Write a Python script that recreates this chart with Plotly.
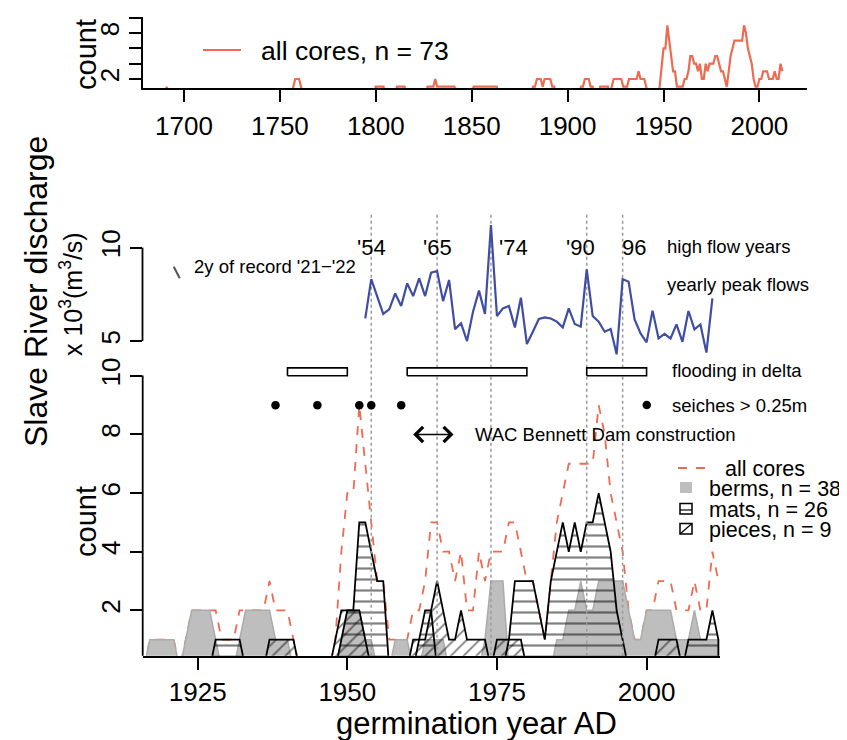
import plotly.graph_objects as go

W, H = 847, 740
OFF = 8  # page body margin
FW, FH = W - OFF, H - OFF
FONT = "Liberation Sans, Arial, Helvetica, sans-serif"
CORAL = "#EE6A50"
BLUE = "#3F4EA3"
GRAY_FILL = "#BEBEBE"

# ---------------- data ----------------
# early record of all cores (first year, last year, count), zero elsewhere
early_runs = [
    (1691, 1691, 1),
    (1757, 1757, 1), (1758, 1760, 2), (1761, 1761, 1),
    (1800, 1804, 1),
    (1811, 1815, 1),
    (1827, 1830, 1), (1831, 1831, 2), (1832, 1841, 1),
    (1851, 1863, 1),
    (1882, 1883, 1), (1884, 1886, 2), (1887, 1887, 1), (1888, 1891, 2), (1892, 1893, 1),
    (1907, 1908, 1), (1909, 1911, 2), (1912, 1913, 1),
]
first_year_top = 1680

# germination counts per year, 1916 - 2012
year0 = 1916
all_cores = [0, 1, 1, 1, 1, 1, 0, 1, 2, 2, 2, 2, 2, 1, 1, 1, 2, 2, 2, 2,   # 1916-1935
             2, 3, 2, 2, 2, 1, 0, 0, 0, 0, 0, 0, 1, 4, 6, 6, 9, 7, 5, 3,   # 1936-1955
             3, 1, 1, 1, 1, 2, 2, 3, 5, 5, 4, 4, 3, 4, 2, 2, 4, 3, 4, 4,   # 1956-1975
             4, 5, 5, 4, 3, 3, 2, 1, 3, 5, 6, 7, 7, 7, 7, 7, 9, 8, 6, 5,   # 1976-1995
             4, 2, 1, 1, 2, 2, 3, 3, 3, 2, 2, 2, 3, 2, 2, 4, 3]            # 1996-2012
berms = [0, 1, 1, 1, 1, 1, 0, 1, 2, 2, 2, 2, 1, 0, 0, 0, 1, 2, 2, 2,
         2, 2, 1, 1, 1, 0, 0, 0, 0, 0, 0, 0, 0, 1, 2, 2, 2, 1, 1, 0,
         0, 0, 1, 1, 1, 0, 0, 1, 1, 1, 1, 0, 0, 0, 0, 0, 0, 1, 3, 3,
         3, 0, 0, 0, 0, 0, 0, 0, 0, 1, 1, 2, 2, 3, 2, 2, 3, 3, 3, 3,
         3, 2, 1, 1, 2, 2, 2, 2, 2, 1, 1, 1, 2, 1, 1, 1, 1]
mats = [0, 0, 0, 0, 0, 0, 0, 0, 0, 0, 0, 0, 1, 1, 1, 1, 1, 0, 0, 0,
        0, 0, 0, 0, 0, 0, 0, 0, 0, 0, 0, 0, 0, 1, 2, 2, 5, 5, 4, 3,
        3, 0, 0, 0, 0, 0, 1, 2, 2, 0, 0, 0, 0, 0, 0, 0, 0, 0, 0, 0,
        0, 1, 3, 3, 3, 3, 2, 1, 3, 4, 5, 4, 5, 4, 5, 5, 6, 5, 4, 2,
        1, 0, 0, 0, 0, 0, 0, 0, 0, 0, 0, 1, 1, 1, 1, 2, 1]
pieces = [0, 0, 0, 0, 0, 0, 0, 0, 0, 0, 0, 0, 0, 0, 0, 0, 0, 0, 0, 0,
          0, 1, 1, 1, 1, 1, 0, 0, 0, 0, 0, 0, 1, 2, 2, 2, 2, 1, 0, 0,
          0, 0, 0, 0, 0, 1, 1, 1, 2, 3, 2, 1, 1, 2, 1, 1, 1, 1, 0, 1,
          1, 1, 1, 1, 0, 0, 0, 0, 0, 0, 0, 0, 0, 0, 0, 0, 0, 0, 0, 0,
          0, 0, 0, 0, 0, 0, 1, 1, 1, 1, 0, 0, 0, 0, 0, 0, 0]

# Slave River yearly peak flows (x10^3 m3/s), 1953 - 2011
flow_year0 = 1953
peak_flow = [6.21, 8.32, 7.38, 6.45, 6.70, 7.55, 6.88, 8.09, 7.41, 8.36,
             7.41, 8.66, 8.75, 7.14, 8.27, 5.64, 5.95, 5.00, 6.57, 7.70,
             6.45, 11.21, 6.34, 6.75, 6.88, 5.73, 7.32, 4.84, 5.50, 6.18,
             6.27, 6.21, 6.04, 5.73, 6.75, 5.91, 5.77, 8.84, 6.34, 6.04,
             5.50, 5.64, 4.29, 8.32, 8.18, 6.16, 5.41, 4.93, 6.63, 5.14,
             5.38, 5.14, 5.89, 4.96, 6.61, 5.63, 5.89, 4.38, 7.29]
early_flow_years = [1921, 1922]
early_flow = [8.98, 8.36]

high_flow_years = [1954, 1965, 1974, 1990, 1996]
high_flow_labels = ["'54", "'65", "'74", "'90", "96"]
high_flow_label_x = [1954, 1965, 1977.8, 1989, 1997.9]

flood_start = [1940, 1960, 1990]
flood_end = [1950, 1980, 2000]
seiche_years = [1938, 1945, 1952, 1954, 1959]
dam_start, dam_end = 1961, 1968

# ---------------- derived series ----------------
years = [year0 + i for i in range(len(all_cores))]
top_years = list(range(first_year_top, years[-1] + 1))
top_counts = {y: 0 for y in top_years}
for a, b, c in early_runs:
    for y in range(a, b + 1):
        top_counts[y] = c
for y, c in zip(years, all_cores):
    top_counts[y] = c
flow_years = [flow_year0 + i for i in range(len(peak_flow))]


def px_x(p):
    return (p - OFF) / FW


def px_y(p):
    return 1 - (p - OFF) / FH


def polygon(xs, ys):
    # close to zero like R polygon(c(x, rev(x)), c(y, 0...))
    return list(xs) + [xs[-1], xs[0]], list(ys) + [0, 0]


fig = go.Figure()

# top panel
fig.add_trace(go.Scatter(x=top_years, y=[top_counts[y] for y in top_years],
                         mode="lines", line=dict(color=CORAL, width=2.2),
                         xaxis="x", yaxis="y", hoverinfo="skip"))

# bottom panel: all cores dashed
fig.add_trace(go.Scatter(x=years, y=all_cores, mode="lines",
                         line=dict(color=CORAL, width=1.8, dash="dash"),
                         xaxis="x2", yaxis="y3", hoverinfo="skip"))
# berms
bx, by = polygon(years, berms)
fig.add_trace(go.Scatter(x=bx, y=by, mode="lines", fill="toself",
                         fillcolor=GRAY_FILL, line=dict(color="#ABABAB", width=1.5),
                         xaxis="x2", yaxis="y3", hoverinfo="skip"))
# mats
mx, my = polygon(years, mats)
fig.add_trace(go.Scatter(x=mx, y=my, mode="lines", fill="toself",
                         fillcolor="rgba(0,0,0,0)",
                         fillpattern=dict(shape="-", size=11, solidity=0.2,
                                          fgcolor="black", bgcolor="rgba(0,0,0,0)"),
                         line=dict(color="black", width=1.8),
                         xaxis="x2", yaxis="y3", hoverinfo="skip"))
# pieces
qx, qy = polygon(years, pieces)
fig.add_trace(go.Scatter(x=qx, y=qy, mode="lines", fill="toself",
                         fillcolor="rgba(0,0,0,0)",
                         fillpattern=dict(shape="/", size=9, solidity=0.2,
                                          fgcolor="black", bgcolor="rgba(0,0,0,0)"),
                         line=dict(color="black", width=1.8),
                         xaxis="x2", yaxis="y3", hoverinfo="skip"))

# high-flow dotted verticals
for yr in high_flow_years:
    fig.add_trace(go.Scatter(x=[yr, yr], y=[0.453, 15.55], mode="lines",
                             line=dict(color="#9A9A9A", width=1.5, dash="dot"),
                             xaxis="x2", yaxis="y3", hoverinfo="skip"))

# discharge
fig.add_trace(go.Scatter(x=flow_years, y=peak_flow, mode="lines",
                         line=dict(color=BLUE, width=2.2),
                         xaxis="x2", yaxis="y2", hoverinfo="skip"))
fig.add_trace(go.Scatter(x=early_flow_years, y=early_flow, mode="lines",
                         line=dict(color="#555555", width=2),
                         xaxis="x2", yaxis="y2", hoverinfo="skip"))

# flooding periods
for a, b in zip(flood_start, flood_end):
    fig.add_trace(go.Scatter(x=[a, b, b, a, a], y=[10.0, 10.0, 10.27, 10.27, 10.0],
                             mode="lines", fill="toself", fillcolor="white",
                             line=dict(color="black", width=1.6),
                             xaxis="x2", yaxis="y3", hoverinfo="skip"))
# seiches
fig.add_trace(go.Scatter(x=seiche_years, y=[9] * len(seiche_years), mode="markers",
                         marker=dict(color="black", size=8.5),
                         xaxis="x2", yaxis="y3", hoverinfo="skip"))

axis_common = dict(showgrid=False, zeroline=False, ticks="outside", ticklen=12,
                   tickwidth=1.8, tickcolor="black", linecolor="black", linewidth=1.8,
                   tickfont=dict(family=FONT, size=26, color="black"))

fig.update_layout(
    width=FW, height=FH, margin=dict(l=0, r=0, t=0, b=0),
    paper_bgcolor="white", plot_bgcolor="white", showlegend=False,
    font=dict(family=FONT, color="black"),
    xaxis=dict(domain=[px_x(143), px_x(807)], range=[1678.62, 2024.82], anchor="y",
               tickvals=[1700, 1750, 1800, 1850, 1900, 1950, 2000], showline=True,
               ticklabelstandoff=2, **axis_common),
    yaxis=dict(domain=[px_y(88), px_y(17)], range=[0.826, 10.09], anchor="x",
               tickvals=[2, 8], tickangle=-90, showline=True,
               minor=dict(tickvals=[4, 6, 10], ticks="outside", ticklen=12,
                          tickwidth=1.8, tickcolor="black", showgrid=False),
               **axis_common),
    xaxis2=dict(domain=[px_x(143), px_x(720)], range=[1915.86, 2012.27], anchor="y3",
                tickvals=[1925, 1950, 1975, 2000], showline=True,
                ticklabelstandoff=0, **axis_common),
    yaxis3=dict(domain=[px_y(655.7), px_y(200)], range=[0.453, 15.997], anchor="x2",
                tickvals=[2, 4, 6, 8, 10], tickangle=-90, showline=False, **axis_common),
    yaxis2=dict(overlaying="y3", range=[-11.856, 12.555], anchor="x2", side="left",
                tickvals=[5, 10], tickangle=-90, showline=False, **axis_common),
)

shapes = [
    dict(type="line", xref="paper", yref="paper", x0=px_x(142.7), x1=px_x(142.7),
         y0=px_y(655.7), y1=px_y(375.5), line=dict(color="black", width=1.8)),
    dict(type="line", xref="paper", yref="paper", x0=px_x(142.5), x1=px_x(142.5),
         y0=px_y(341), y1=px_y(247.7), line=dict(color="black", width=1.8)),
    # top legend key
    dict(type="line", xref="paper", yref="paper", x0=px_x(203), x1=px_x(241),
         y0=px_y(50), y1=px_y(50), line=dict(color=CORAL, width=2.2)),
    # bottom legend keys
    dict(type="line", xref="paper", yref="paper", x0=px_x(678), x1=px_x(711),
         y0=px_y(468), y1=px_y(468), line=dict(color=CORAL, width=1.8, dash="dash")),
    dict(type="rect", xref="paper", yref="paper", x0=px_x(680), x1=px_x(692),
         y0=px_y(493), y1=px_y(482), fillcolor=GRAY_FILL, line=dict(width=0)),
    dict(type="rect", xref="paper", yref="paper", x0=px_x(680), x1=px_x(692),
         y0=px_y(514), y1=px_y(503.5), line=dict(color="black", width=1.5)),
    dict(type="line", xref="paper", yref="paper", x0=px_x(680), x1=px_x(692),
         y0=px_y(510), y1=px_y(510), line=dict(color="black", width=1.2)),
    dict(type="rect", xref="paper", yref="paper", x0=px_x(680), x1=px_x(692),
         y0=px_y(534), y1=px_y(523.5), line=dict(color="black", width=1.5)),
    dict(type="line", xref="paper", yref="paper", x0=px_x(680), x1=px_x(692),
         y0=px_y(534), y1=px_y(523.5), line=dict(color="black", width=1.2)),
    # seiche legend dot
    dict(type="circle", xref="paper", yref="paper", x0=px_x(642.5), x1=px_x(651),
         y0=px_y(409.2), y1=px_y(400.7), fillcolor="black", line=dict(width=0)),
]
fig.update_layout(shapes=shapes)


def txt(x, y, s, size, xanchor="left", angle=0):
    return dict(x=px_x(x), y=px_y(y), xref="paper", yref="paper", text=s,
                showarrow=False, xanchor=xanchor, yanchor="middle", textangle=angle,
                font=dict(family=FONT, size=size, color="black"))


ann = [
    txt(259, 51, "all cores, n = 73", 26.5),
    txt(86, 55, "count", 29, "center", -90),
    txt(86, 522, "count", 29, "center", -90),
    txt(36, 292, "Slave River discharge", 32, "center", -90),
    txt(71, 294, "x 10<sup>3</sup>(m<sup>3</sup>/s)", 25, "center", -90),
    txt(476, 723, "germination year AD", 31, "center"),
    txt(192, 266, "2y of record '21\u2212'22", 18.5),
    txt(665, 246.5, "high flow years", 18.5),
    txt(665, 284, "yearly peak flows", 18.5),
    txt(670, 370, "flooding in delta", 18.5),
    txt(670, 405, "seiches > 0.25m", 18.5),
    txt(473, 434, "WAC Bennett Dam construction", 18.5),
    txt(723, 469, "all cores", 21.5),
    txt(707, 489, "berms, n = 38", 21.5),
    txt(707, 510, "mats, n = 26", 21.5),
    txt(707, 530, "pieces, n = 9", 21.5),
]
for lab, xv in zip(high_flow_labels, high_flow_label_x):
    ann.append(dict(x=xv, y=10.0, xref="x2", yref="y2", text=lab, showarrow=False,
                    xanchor="center", yanchor="middle",
                    font=dict(family=FONT, size=22, color="black")))
ann.append(dict(x=dam_start, y=8, ax=dam_end, ay=8, xref="x2", yref="y3",
                axref="x2", ayref="y3", text="", showarrow=True,
                arrowside="end+start", arrowhead=4, startarrowhead=4,
                arrowsize=2.1, startarrowsize=2.1, arrowwidth=1.4,
                arrowcolor="black", standoff=0, startstandoff=0))
fig.update_layout(annotations=ann)

fig.write_html("out.html")
